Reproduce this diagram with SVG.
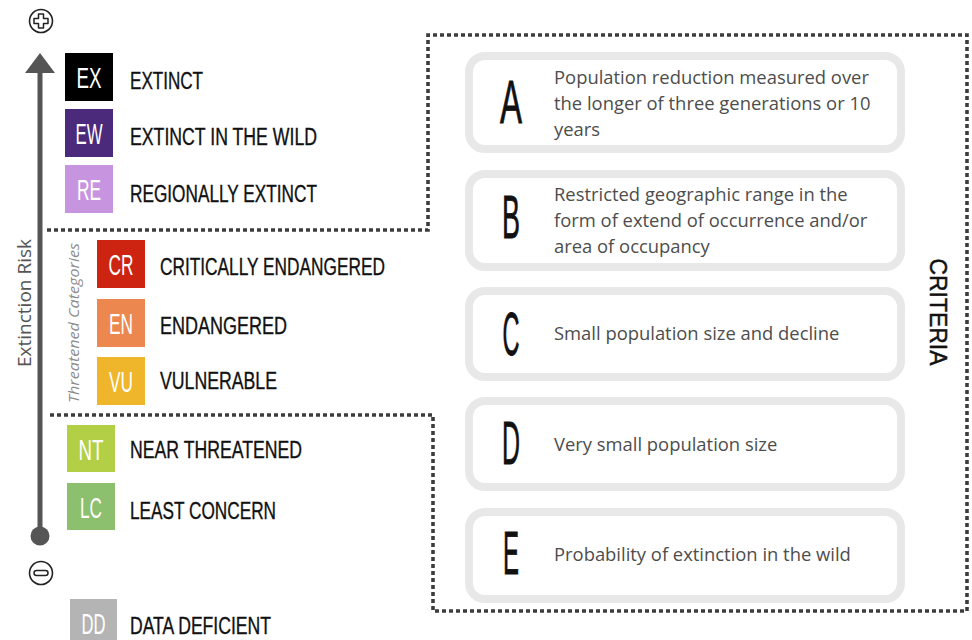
<svg xmlns="http://www.w3.org/2000/svg" width="972" height="640" viewBox="0 0 972 640">
  <style>
    .code { font-family: "Liberation Sans", Arial, sans-serif; font-size: 30px; fill: #ffffff; text-anchor: middle; }
    .label { font-family: "Liberation Sans", Arial, sans-serif; font-size: 23px; fill: #111111; stroke: #111111; stroke-width: 0.35; }
    .crit-box { fill: #ffffff; stroke: #e8e8e8; stroke-width: 8; }
    .crit-letter { font-family: "Liberation Sans", Arial, sans-serif; font-size: 61px; fill: #111111; stroke: #111111; stroke-width: 0.8; text-anchor: middle; }
    .crit-text { font-family: "Open Sans", "Liberation Sans", sans-serif; font-size: 18.4px; fill: #4d4d4d; }
    .dotted { fill: none; stroke: #3c3c3c; stroke-width: 3.6; stroke-dasharray: 4 3; }
  </style>

  <rect width="972" height="640" fill="#ffffff"/>

  <!-- dotted grouping outline -->
  <g id="connectors">
    <path class="dotted" d="M47,230 H428 V35 H967 V611 H433 V415 H47"/>
  </g>

  <!-- risk axis -->
  <g id="risk-axis">
    <line x1="40" y1="536" x2="40" y2="70" stroke="#555555" stroke-width="5"/>
    <polygon points="40,53 25,73 55,73" fill="#555555"/>
    <circle cx="40" cy="536" r="9.5" fill="#555555"/>
    <text transform="translate(31,303) rotate(-90)" text-anchor="middle" font-family="Open Sans, Liberation Sans, sans-serif" font-size="19" fill="#555555">Extinction Risk</text>
  </g>

  <g id="icon-plus">
    <circle cx="41" cy="21" r="11.5" fill="none" stroke="#222222" stroke-width="1.6"/>
    <path d="M38.5,14 H43.5 V18.5 H48 V23.5 H43.5 V28 H38.5 V23.5 H34 V18.5 H38.5 Z" fill="none" stroke="#222222" stroke-width="1.5" stroke-linejoin="round"/>
  </g>

  <g id="icon-minus">
    <circle cx="41" cy="573" r="11.5" fill="none" stroke="#222222" stroke-width="1.6"/>
    <rect x="34" y="570.5" width="14" height="5" rx="2.5" fill="none" stroke="#222222" stroke-width="1.5"/>
  </g>

  <g id="threatened-label">
    <text transform="translate(79,323) rotate(-90)" text-anchor="middle" font-family="Open Sans, Liberation Sans, sans-serif" font-style="italic" font-size="15" fill="#8c8c8c" textLength="160" lengthAdjust="spacingAndGlyphs">Threatened Categories</text>
  </g>

  <!-- category nodes -->
  <g id="cat-ex">
    <rect x="65" y="53" width="48" height="48" fill="#000000"/>
    <text class="code" x="89" y="87.5" textLength="25" lengthAdjust="spacingAndGlyphs">EX</text>
    <text class="label" x="130" y="88.5" textLength="73" lengthAdjust="spacingAndGlyphs">EXTINCT</text>
  </g>
  <g id="cat-ew">
    <rect x="65" y="109" width="48" height="48" fill="#4b2a7b"/>
    <text class="code" x="89" y="143.5" textLength="27" lengthAdjust="spacingAndGlyphs">EW</text>
    <text class="label" x="130" y="144.5" textLength="187" lengthAdjust="spacingAndGlyphs">EXTINCT IN THE WILD</text>
  </g>
  <g id="cat-re">
    <rect x="65" y="165" width="48" height="48" fill="#c795df"/>
    <text class="code" x="89" y="199.5" textLength="24" lengthAdjust="spacingAndGlyphs">RE</text>
    <text class="label" x="130" y="201.5" textLength="187" lengthAdjust="spacingAndGlyphs">REGIONALLY EXTINCT</text>
  </g>
  <g id="cat-cr">
    <rect x="97" y="240" width="48" height="48" fill="#cc2410"/>
    <text class="code" x="121" y="274.5" textLength="25" lengthAdjust="spacingAndGlyphs">CR</text>
    <text class="label" x="160" y="275" textLength="225" lengthAdjust="spacingAndGlyphs">CRITICALLY ENDANGERED</text>
  </g>
  <g id="cat-en">
    <rect x="97" y="299" width="48" height="48" fill="#ec8750"/>
    <text class="code" x="121" y="333.5" textLength="24" lengthAdjust="spacingAndGlyphs">EN</text>
    <text class="label" x="160" y="334" textLength="127" lengthAdjust="spacingAndGlyphs">ENDANGERED</text>
  </g>
  <g id="cat-vu">
    <rect x="97" y="357" width="48" height="48" fill="#efb52b"/>
    <text class="code" x="121" y="391.5" textLength="24" lengthAdjust="spacingAndGlyphs">VU</text>
    <text class="label" x="160" y="389" textLength="117" lengthAdjust="spacingAndGlyphs">VULNERABLE</text>
  </g>
  <g id="cat-nt">
    <rect x="67" y="425" width="48" height="47" fill="#b3cf45"/>
    <text class="code" x="91" y="459.5" textLength="25" lengthAdjust="spacingAndGlyphs">NT</text>
    <text class="label" x="130" y="457.5" textLength="172" lengthAdjust="spacingAndGlyphs">NEAR THREATENED</text>
  </g>
  <g id="cat-lc">
    <rect x="67" y="483" width="48" height="47" fill="#8cbf6e"/>
    <text class="code" x="91" y="517.5" textLength="22" lengthAdjust="spacingAndGlyphs">LC</text>
    <text class="label" x="130" y="518.5" textLength="146" lengthAdjust="spacingAndGlyphs">LEAST CONCERN</text>
  </g>
  <g id="cat-dd">
    <rect x="70" y="599" width="47" height="48" fill="#b4b4b4"/>
    <text class="code" x="93.5" y="633.5" textLength="24" lengthAdjust="spacingAndGlyphs">DD</text>
    <text class="label" x="130" y="633.5" textLength="141" lengthAdjust="spacingAndGlyphs">DATA DEFICIENT</text>
  </g>

  <!-- criteria nodes -->
  <g id="crit-a">
    <rect class="crit-box" x="469" y="56" width="432" height="93" rx="16"/>
    <text class="crit-letter" x="511" y="123" textLength="22" lengthAdjust="spacingAndGlyphs">A</text>
    <text class="crit-text" x="554" y="84">Population reduction measured over</text>
    <text class="crit-text" x="554" y="110">the longer of three generations or 10</text>
    <text class="crit-text" x="554" y="136">years</text>
  </g>
  <g id="crit-b">
    <rect class="crit-box" x="469" y="174" width="432" height="93" rx="16"/>
    <text class="crit-letter" x="511" y="238" textLength="18" lengthAdjust="spacingAndGlyphs">B</text>
    <text class="crit-text" x="554" y="201">Restricted geographic range in the</text>
    <text class="crit-text" x="554" y="227">form of extend of occurrence and/or</text>
    <text class="crit-text" x="554" y="253">area of occupancy</text>
  </g>
  <g id="crit-c">
    <rect class="crit-box" x="469" y="291" width="432" height="86" rx="16"/>
    <text class="crit-letter" x="511" y="355" textLength="17" lengthAdjust="spacingAndGlyphs">C</text>
    <text class="crit-text" x="554" y="340">Small population size and decline</text>
  </g>
  <g id="crit-d">
    <rect class="crit-box" x="469" y="401" width="432" height="86" rx="16"/>
    <text class="crit-letter" x="511" y="464" textLength="18" lengthAdjust="spacingAndGlyphs">D</text>
    <text class="crit-text" x="554" y="451">Very small population size</text>
  </g>
  <g id="crit-e">
    <rect class="crit-box" x="469" y="512" width="432" height="87" rx="16"/>
    <text class="crit-letter" x="511" y="574" textLength="16" lengthAdjust="spacingAndGlyphs">E</text>
    <text class="crit-text" x="554" y="561">Probability of extinction in the wild</text>
  </g>

  <g id="criteria-label">
    <text transform="translate(930,312) rotate(90)" text-anchor="middle" font-family="Liberation Sans, Arial, sans-serif" font-size="24" fill="#111111" stroke="#111111" stroke-width="0.5" textLength="107" lengthAdjust="spacingAndGlyphs">CRITERIA</text>
  </g>
</svg>
